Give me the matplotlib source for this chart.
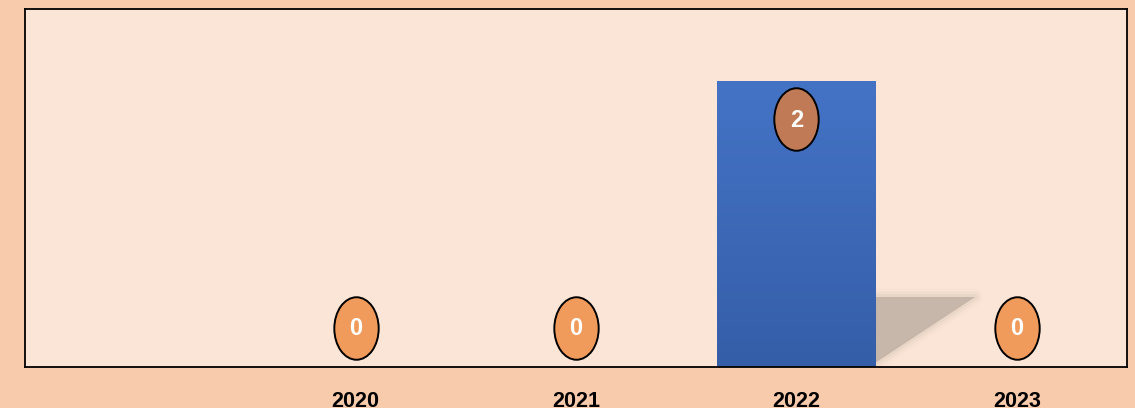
import numpy as np
import matplotlib.pyplot as plt
from matplotlib.patches import Polygon
from matplotlib.path import Path
from matplotlib.transforms import ScaledTranslation, Affine2D
from matplotlib.colors import LinearSegmentedColormap

# datos
categorias = ["", "2020", "2021", "2022", "2023"]
valores = [np.nan, 0, 0, 2, 0]

fondo = "#F8CBAD"
fondo_plot = "#FBE5D6"
ancho = 0.717

plt.rcParams['font.family'] = ['Liberation Sans', 'DejaVu Sans']

fig = plt.figure(figsize=(11.35, 4.08), dpi=100, facecolor=fondo)
ax = fig.add_axes([0.022, 0.1005, 0.971, 0.8775])
ax.set_facecolor(fondo_plot)

x = np.arange(len(categorias))

# sombra detras de las barras (difuminada)
for xi, v in zip(x, valores):
    if not np.isnan(v) and v > 0:
        xr = xi + ancho / 2
        h = 0.245 * v
        pts = [(xr, 0.03), (xr, h), (xr + 0.45, h)]
        for lw, a in [(12, 0.06), (8, 0.1), (4, 0.16)]:
            ax.add_patch(Polygon(pts, closed=True, facecolor="none",
                                 edgecolor="#C5B5A8", lw=lw, alpha=a,
                                 joinstyle="round", zorder=1))
        ax.add_patch(Polygon(pts, closed=True, facecolor="#C5B5A8",
                             edgecolor="none", alpha=0.95, zorder=1))

# barras con degradado
bars = ax.bar(x, np.nan_to_num(valores), width=ancho, color="none", zorder=2)
grad = np.linspace(0, 1, 256).reshape(-1, 1)
cmap = LinearSegmentedColormap.from_list("azul", ["#355EA8", "#4473C6"])
for b in bars:
    if b.get_height() <= 0:
        continue
    x0, y0 = b.get_x(), b.get_y()
    im = ax.imshow(grad, cmap=cmap, aspect="auto", origin="lower",
                   extent=[x0, x0 + b.get_width(), y0, y0 + b.get_height()],
                   zorder=2)
    im.set_clip_path(b)
ax.set_xlim(-0.5, len(categorias) - 0.5)
ax.set_ylim(0, 2.5)

# etiquetas en elipses
elipse = Path.unit_circle().transformed(Affine2D().scale(0.71, 1.0))
for xi, v in zip(x, valores):
    if np.isnan(v):
        continue
    if v > 0:
        off, col = -28, "#C07A55"
    else:
        off, col = 28, "#F09B5B"
    tr = ax.transData + ScaledTranslation(0, off / 72, fig.dpi_scale_trans)
    ax.scatter([xi], [v], marker=elipse, s=45 ** 2, facecolor=col,
               edgecolor="black", linewidths=1.4, transform=tr, zorder=5,
               clip_on=False)
    ax.annotate(f"{int(v)}", xy=(xi, v), xytext=(0, off - 0.5),
                textcoords="offset points", ha="center", va="center",
                color="white", fontsize=17, fontweight="bold", zorder=6)

ax.set_xticks(x)
ax.set_xticklabels(categorias, fontsize=15.5, fontweight="bold")
ax.tick_params(axis="x", length=0, pad=17)
ax.set_yticks([])
for s in ax.spines.values():
    s.set_color("black")
    s.set_linewidth(1.3)

fig.savefig("out.png", dpi=100, facecolor=fondo)
